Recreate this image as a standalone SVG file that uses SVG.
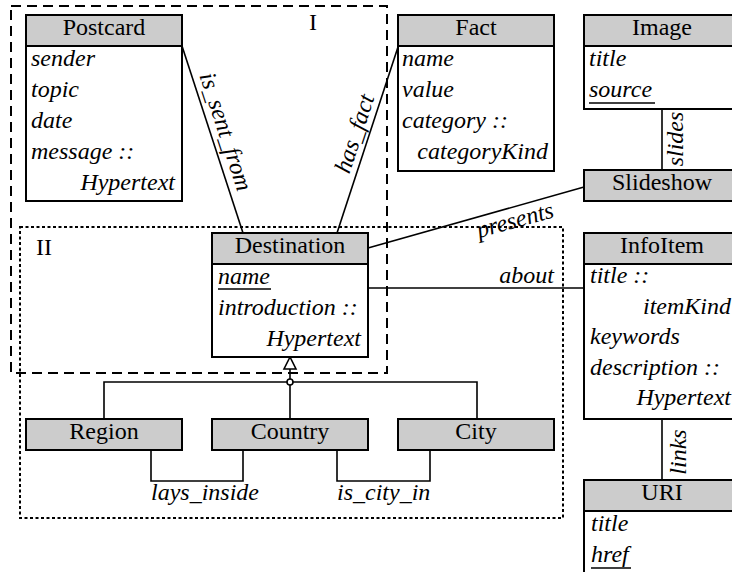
<svg xmlns="http://www.w3.org/2000/svg" width="732" height="572" viewBox="0 0 732 572" font-family="'Liberation Serif', Tinos, 'Times New Roman', Times, 'DejaVu Serif', 'Noto Serif', serif">
<style>
text { font-family: "Liberation Serif", Tinos, "Times New Roman", Times, "DejaVu Serif", "Noto Serif", serif; font-size: 24px; fill: #000; }
.c { text-anchor: middle; }
.i { font-style: italic; }
.e { text-anchor: end; }
.box { fill: #fff; stroke: #000; stroke-width: 2; }
.head { fill: #cccccc; stroke: #000; stroke-width: 2; }
.ln { fill: none; stroke: #000; stroke-width: 1.6; }
.ul { stroke: #000; stroke-width: 1.3; }
.pkgI { fill: none; stroke: #000; stroke-width: 2; stroke-dasharray: 10 6; }
.pkgII { fill: none; stroke: #000; stroke-width: 2; stroke-dasharray: 3 2.5; }
</style>
<rect width="732" height="572" fill="#fff"/>

<g id="packages">
  <rect class="pkgI" x="11" y="6" width="376" height="367"/>
  <text x="313" y="30" class="c">I</text>
  <rect class="pkgII" x="20" y="227" width="543" height="291"/>
  <text x="36" y="255">II</text>
</g>

<g id="connectors">
  <line class="ln" x1="182" y1="46" x2="243" y2="233"/>
  <line class="ln" x1="398" y1="47" x2="337" y2="233"/>
  <line class="ln" x1="368" y1="248" x2="584" y2="187"/>
  <line class="ln" x1="662" y1="108" x2="662" y2="170"/>
  <line class="ln" x1="368" y1="288" x2="584" y2="288"/>
  <line class="ln" x1="662" y1="419" x2="662" y2="480"/>
  <polyline class="ln" points="104,419 104,382 477,382 477,419"/>
  <line class="ln" x1="290" y1="369" x2="290" y2="419"/>
  <polygon points="290,357 284,369 296,369" fill="#fff" stroke="#000" stroke-width="1.6"/>
  <circle cx="290" cy="382" r="3" fill="#fff" stroke="#000" stroke-width="1.6"/>
  <polyline class="ln" points="151,450 151,481 243,481 243,450"/>
  <polyline class="ln" points="337,450 337,481 430,481 430,450"/>
  <text class="i c" transform="translate(218.5,134) rotate(71.9)">is_sent_from</text>
  <text class="i c" transform="translate(362,136) rotate(-71.8)">has_fact</text>
  <text class="i c" transform="translate(517,227.5) rotate(-15.5)">presents</text>
  <text class="i c" transform="translate(683,139) rotate(-90)">slides</text>
  <text class="i c" transform="translate(686,452) rotate(-90)">links</text>
  <text class="i e" x="554" y="283">about</text>
  <text class="i" x="151" y="500">lays_inside</text>
  <text class="i" x="337" y="500">is_city_in</text>
</g>

<g id="postcard">
  <rect class="box" x="26" y="15" width="156" height="186"/>
  <rect class="head" x="26" y="15" width="156" height="31"/>
  <text class="c" x="104" y="35">Postcard</text>
  <text class="i" x="31" y="66">sender</text>
  <text class="i" x="31" y="97">topic</text>
  <text class="i" x="31" y="128">date</text>
  <text class="i" x="31" y="159">message ::</text>
  <text class="i e" x="175" y="190">Hypertext</text>
</g>

<g id="fact">
  <rect class="box" x="398" y="15" width="156" height="156"/>
  <rect class="head" x="398" y="15" width="156" height="31"/>
  <text class="c" x="476" y="35">Fact</text>
  <text class="i" x="402" y="66">name</text>
  <text class="i" x="402" y="97">value</text>
  <text class="i" x="402" y="128">category ::</text>
  <text class="i e" x="548" y="159">categoryKind</text>
</g>

<g id="image">
  <rect class="box" x="584" y="15" width="156" height="94"/>
  <rect class="head" x="584" y="15" width="156" height="31"/>
  <text class="c" x="662" y="35">Image</text>
  <text class="i" x="589" y="66">title</text>
  <text class="i" x="589" y="97">source</text>
  <line class="ul" x1="589" y1="103" x2="655" y2="103"/>
</g>

<g id="slideshow">
  <rect class="head" x="584" y="170" width="156" height="31"/>
  <text class="c" x="662" y="190">Slideshow</text>
</g>

<g id="destination">
  <rect class="box" x="212" y="233" width="156" height="124"/>
  <rect class="head" x="212" y="233" width="156" height="31"/>
  <text class="c" x="290" y="253">Destination</text>
  <text class="i" x="218" y="284">name</text>
  <line class="ul" x1="218" y1="289" x2="271" y2="289"/>
  <text class="i" x="218" y="315">introduction ::</text>
  <text class="i e" x="361" y="346">Hypertext</text>
</g>

<g id="infoitem">
  <rect class="box" x="584" y="233" width="156" height="186"/>
  <rect class="head" x="584" y="233" width="156" height="31"/>
  <text class="c" x="662" y="253">InfoItem</text>
  <text class="i" x="590" y="283">title ::</text>
  <text class="i e" x="731" y="313.5">itemKind</text>
  <text class="i" x="590" y="344">keywords</text>
  <text class="i" x="590" y="374.5">description ::</text>
  <text class="i e" x="731" y="405">Hypertext</text>
</g>

<g id="region">
  <rect class="head" x="26" y="419" width="156" height="31"/>
  <text class="c" x="104" y="439">Region</text>
</g>

<g id="country">
  <rect class="head" x="212" y="419" width="156" height="31"/>
  <text class="c" x="290" y="439">Country</text>
</g>

<g id="city">
  <rect class="head" x="398" y="419" width="156" height="31"/>
  <text class="c" x="476" y="439">City</text>
</g>

<g id="uri">
  <rect class="box" x="584" y="480" width="156" height="120"/>
  <rect class="head" x="584" y="480" width="156" height="31"/>
  <text class="c" x="662" y="500">URI</text>
  <text class="i" x="591" y="531">title</text>
  <text class="i" x="591" y="562">href</text>
  <line class="ul" x1="591" y1="568" x2="631" y2="568"/>
</g>
</svg>
